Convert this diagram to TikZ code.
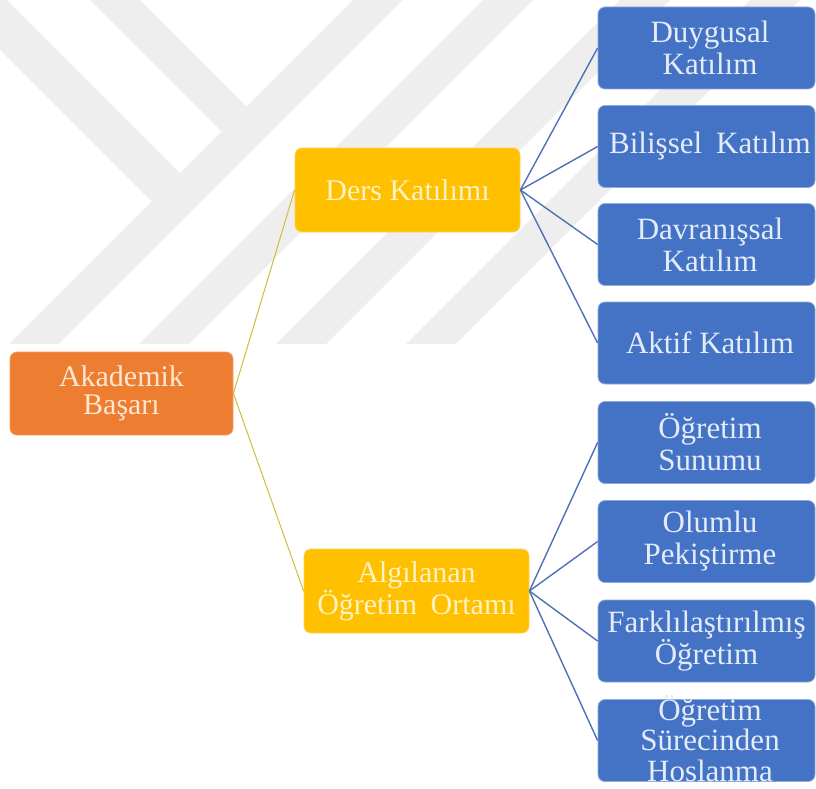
\documentclass[tikz,border=0pt]{standalone}
\usepackage{fontspec}
\setmainfont{Liberation Serif}
\definecolor{orangeC}{HTML}{ED7D31}
\definecolor{orangeT}{HTML}{FDE7CF}
\definecolor{yellowC}{HTML}{FFC000}
\definecolor{yellowT}{HTML}{FFF2C4}
\definecolor{blueC}{HTML}{4472C4}
\definecolor{blueT}{HTML}{E3ECF8}
\definecolor{yline}{HTML}{D2BC3C}
\definecolor{bline}{HTML}{4E70B8}
\definecolor{wmgray}{HTML}{EEEEEE}
\tikzset{
  wm/.style={fill=wmgray},
  obox/.style={fill=orangeC, draw=orangeC!75!white, line width=0.8pt, rounded corners=7pt,
    minimum width=223pt, minimum height=83pt, inner sep=0pt, text=orangeT, align=center,
    font=\fontsize{30}{28.5}\selectfont},
  ybox/.style={fill=yellowC, draw=yellowC!70!white, line width=0.8pt, rounded corners=7pt,
    minimum width=225pt, minimum height=84pt, inner sep=0pt, text=yellowT, align=center,
    font=\fontsize{30}{30}\selectfont},
  bbox/.style={fill=blueC, draw=blueC!60!white, line width=0.8pt, rounded corners=7pt,
    minimum width=217pt, minimum height=82pt, inner sep=0pt},
  btext/.style={text=blueT, align=center, inner sep=0pt, font=\fontsize{31}{32}\selectfont},
  yconn/.style={draw=yline, line width=1pt},
  bconn/.style={draw=bline, line width=1.4pt},
}
\begin{document}
\begin{tikzpicture}[x=1pt,y=-1pt]
\useasboundingbox (0,0) rectangle (816,789);
% watermark
\begin{scope}
\clip (0,0) rectangle (816,343);
\fill[wm] (-60,-10) -- (-3,-10) -- (180,173) -- (151.5,201.5) -- cycle;
\fill[wm] (80,-10) -- (130,-10) -- (246.5,106.5) -- (221.5,131.5) -- cycle;
\foreach \d in {353,483,620,750}{
  \fill[wm] (\d+10,-10) -- (\d+60,-10) -- (\d+50-353,353) -- (\d-353,353) -- cycle;
}
\end{scope}
% nodes
\node[obox] (ak) at (121.5,393.5) {Akademik\\Başarı};
\node[ybox] (dk) at (407.5,190) {Ders Katılımı};
\node[ybox] (ao) at (416.5,591) {Algılanan\\Öğretim\hspace{0.45em}Ortamı};
\node[bbox] (b1) at (706.5,48) {};
\node[bbox] (b2) at (706.5,146.5) {};
\node[bbox] (b3) at (706.5,244.5) {};
\node[bbox] (b4) at (706.5,343) {};
\node[bbox] (b5) at (706.5,442.5) {};
\node[bbox] (b6) at (706.5,541.5) {};
\node[bbox] (b7) at (706.5,641) {};
\node[bbox] (b8) at (706.5,740.5) {};
% connectors
\draw[yconn] (ak.east) -- (dk.west);
\draw[yconn] (ak.east) -- (ao.west);
\foreach \b in {b1,b2,b3,b4}{ \draw[bconn] (dk.east) -- (\b.west); }
\foreach \b in {b5,b6,b7,b8}{ \draw[bconn] (ao.east) -- (\b.west); }
% texts
\node[btext] (t1) at ([xshift=3.5pt]b1.center) {Duygusal\\Katılım};
\node[btext] (t2) at ([xshift=3.5pt]b2.center) {Bilişsel\hspace{0.45em}Katılım};
\node[btext] (t3) at ([xshift=3.5pt]b3.center) {Davranışsal\\Katılım};
\node[btext] (t4) at ([xshift=3.5pt]b4.center) {Aktif Katılım};
\node[btext] (t5) at ([xshift=3.5pt]b5.center) {Öğretim\\Sunumu};
\node[btext] (t6) at ([xshift=3.5pt]b6.center) {Olumlu\\Pekiştirme};
\node[btext] (t7) at ([xshift=0pt]b7.center) {Farklılaştırılmış\\Öğretim};
\node[btext, font=\fontsize{31}{30.5}\selectfont] (t8) at ([xshift=3.5pt,yshift=2pt]b8.center) {Öğretim\\Sürecinden\\Hoslanma};
\end{tikzpicture}
\end{document}
